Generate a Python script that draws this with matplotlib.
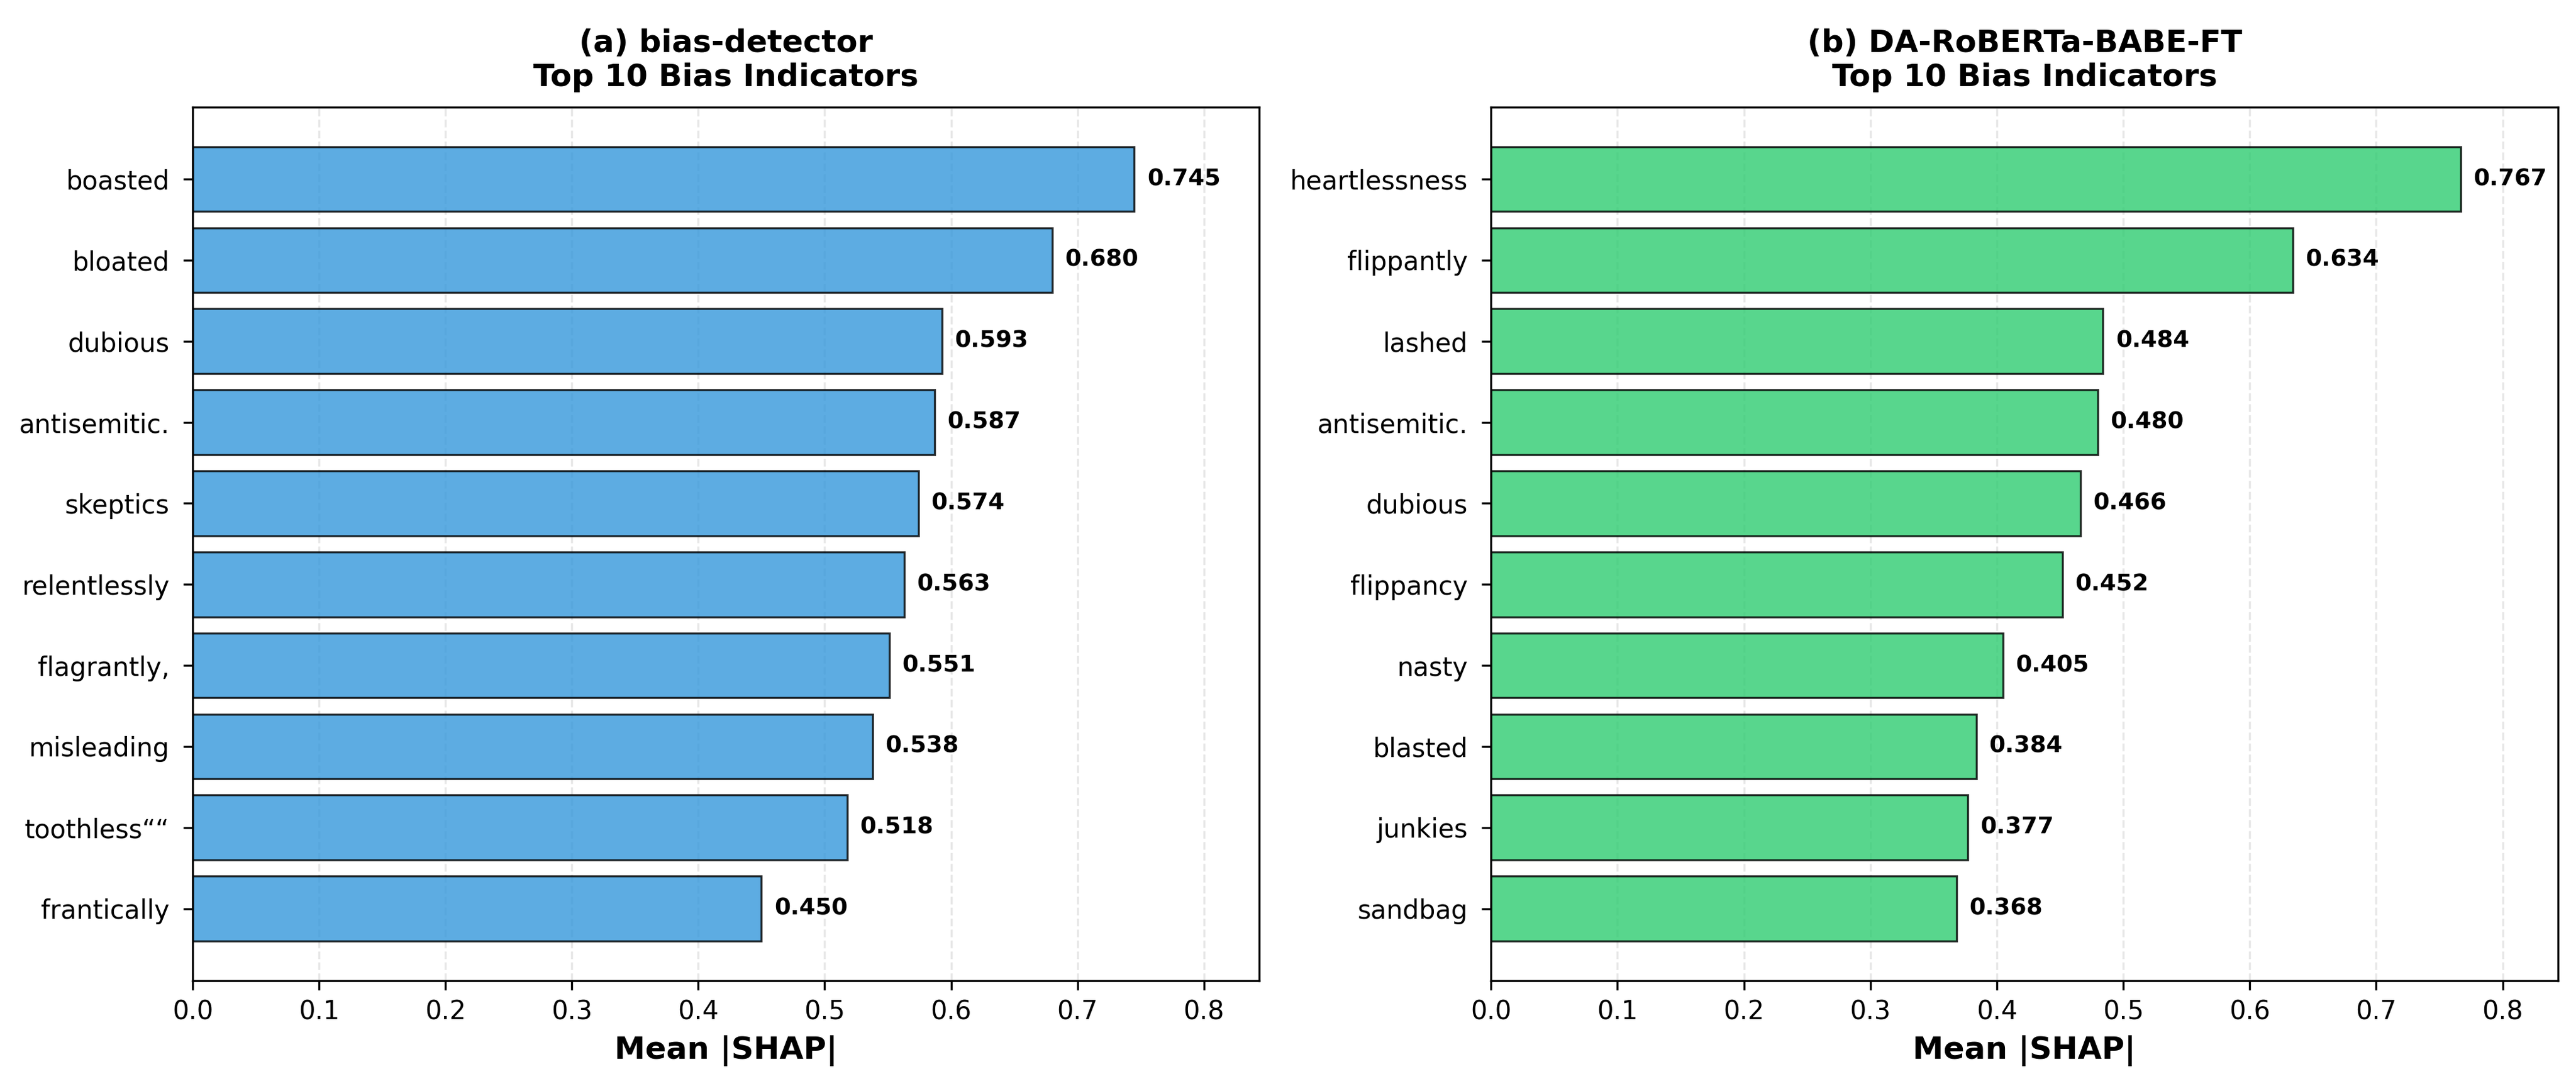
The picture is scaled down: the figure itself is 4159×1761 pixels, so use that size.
import matplotlib
matplotlib.use("Agg")
import matplotlib.pyplot as plt
import numpy as np

# data
words_a = ["boasted", "bloated", "dubious", "antisemitic.", "skeptics",
           "relentlessly", "flagrantly,", "misleading", "toothless\u201c\u201c", "frantically"]
vals_a = [0.745, 0.680, 0.593, 0.587, 0.574, 0.563, 0.551, 0.538, 0.518, 0.450]

words_b = ["heartlessness", "flippantly", "lashed", "antisemitic.", "dubious",
           "flippancy", "nasty", "blasted", "junkies", "sandbag"]
vals_b = [0.767, 0.634, 0.484, 0.480, 0.466, 0.452, 0.405, 0.384, 0.377, 0.368]

titles = ["(a) bias-detector\nTop 10 Bias Indicators",
          "(b) DA-RoBERTa-BABE-FT\nTop 10 Bias Indicators"]
colors = ["#3498db", "#2ecc71"]

fig = plt.figure(figsize=(4159 / 300, 1761 / 300), dpi=300)
ax1 = fig.add_axes([0.0748, 0.101, 0.414, 0.801])
ax2 = fig.add_axes([0.5788, 0.101, 0.4142, 0.801])

xmax = max(max(vals_a), max(vals_b)) * 1.1

for ax, words, vals, title, col in [(ax1, words_a, vals_a, titles[0], colors[0]),
                                    (ax2, words_b, vals_b, titles[1], colors[1])]:
    y = np.arange(len(words))
    ax.barh(y, vals, height=0.8, color=col, alpha=0.8, edgecolor="black", linewidth=0.8)
    ax.set_yticks(y)
    ax.set_yticklabels(words, fontsize=10)
    ax.invert_yaxis()
    for yi, v in zip(y, vals):
        ax.text(v + 0.01, yi, f"{v:.3f}", va="center", ha="left",
                fontsize=9, fontweight="bold")
    ax.set_xlim(0, xmax)
    ax.set_xlabel("Mean |SHAP|", fontsize=12, fontweight="bold")
    ax.set_title(title, fontsize=12, fontweight="bold", pad=8)
    ax.tick_params(axis="x", labelsize=10)
    ax.tick_params(axis="y", pad=5.5)
    ax.grid(axis="x", alpha=0.3, linestyle="--")
    ax.set_axisbelow(True)

fig.savefig("out.png", dpi=300)
